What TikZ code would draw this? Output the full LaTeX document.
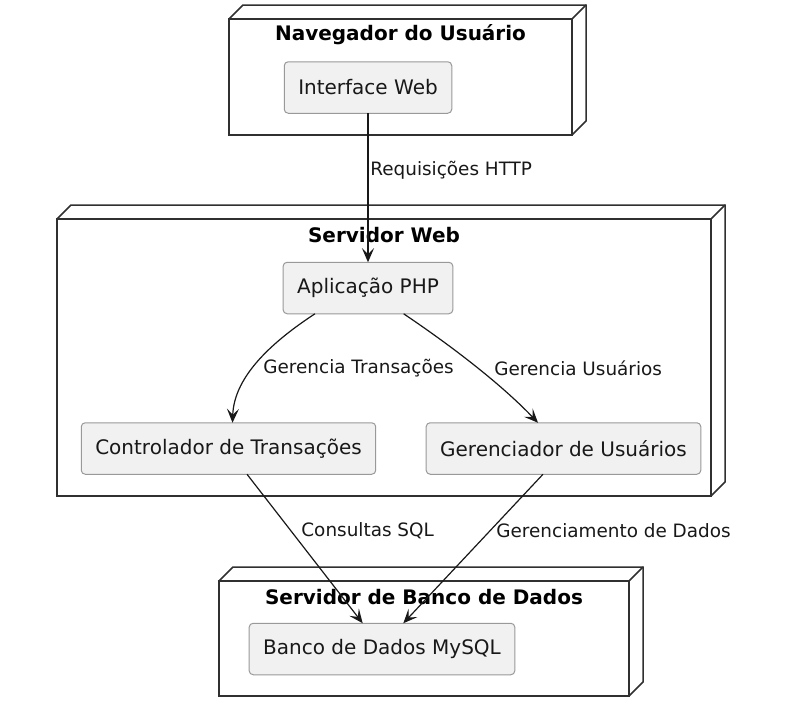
\documentclass[tikz,border=0pt]{standalone}
\usepackage{fontspec}
\setmainfont{DejaVu Sans}
\usepackage{tikz}
\usetikzlibrary{calc,arrows.meta,positioning}

\definecolor{boxfill}{HTML}{F1F1F1}
\definecolor{boxline}{HTML}{999999}
\definecolor{ink}{HTML}{181818}
\definecolor{shellline}{HTML}{303030}

\tikzset{
  shell/.style={draw=shellline,line width=0.75pt,outer sep=0pt,inner sep=0pt},
  shelltitle/.style={font=\bfseries\fontsize{10}{12}\selectfont,text=black},
  artifact/.style={draw=boxline,fill=boxfill,rounded corners=2pt,line width=0.5pt,
    minimum height=25.75pt,inner xsep=7pt,outer sep=0pt,
    font=\fontsize{10}{12}\selectfont,text=ink},
  link/.style={draw=ink,line width=0.6pt,-{Stealth[length=7pt,width=6pt,inset=3pt]}},
  linklabel/.style={font=\fontsize{9.2}{11}\selectfont,text=ink,anchor=west,inner sep=0pt},
}

\begin{document}
\begin{tikzpicture}[x=0.5pt,y=-0.5pt]
        \useasboundingbox (0,0) rectangle (788,707);
        \begin{scope}
          \def\depth{14}

          % servidores (caixas 3D)
          \foreach \name/\xa/\ya/\xb/\yb/\txt in {
              browser/229/19/572/135/Navegador do Usuário,
              websrv/57/219/711/496/Servidor Web,
              dbsrv/219/581/629/696/Servidor de Banco de Dados} {
            \node[shell,minimum width={(\xb-\xa)*0.5pt},minimum height={(\yb-\ya)*0.5pt}]
              (\name) at ({(\xa+\xb)/2},{(\ya+\yb)/2}) {};
            \draw[shell] (\name.north west) -- ++(\depth,-\depth) -- ++({\xb-\xa},0)
              -- ++(0,{\yb-\ya}) -- (\name.south east);
            \draw[shell] (\name.north east) -- ++(\depth,-\depth);
            \node[shelltitle] (\name-title) at ([yshift=-8pt]\name.north) {\txt};
          }

          % artefatos
          \node[artifact] (iface) at (368,87.5) {Interface Web};
          \node[artifact] (app) at (368,288) {Aplicação PHP};
          \node[artifact] (ctrl) at (228.5,448.5) {Controlador de Transações};
          \node[artifact] (mgr) at (563.5,448.5) {Gerenciador de Usuários};
          \node[artifact] (db) at (382,649) {Banco de Dados MySQL};

          % ligacoes
          \draw[link] (iface) -- (app);
          \draw[link] ([xshift=-26.5pt]app.south) .. controls (275,340) and (234,375) .. ([xshift=2pt]ctrl.north);
          \draw[link] ([xshift=17.8pt]app.south) .. controls (450,345) and (500,383) .. ([xshift=-12.75pt]mgr.north);
          \draw[link] ([xshift=9.25pt]ctrl.south) -- ([xshift=-9.65pt]db.north);
          \draw[link] ([xshift=-10.25pt]mgr.south) -- ([xshift=10.65pt]db.north);

          \node[linklabel] (lbl-http) at (370,170) {Requisições HTTP};
          \node[linklabel] (lbl-trans) at (263,368) {Gerencia Transações};
          \node[linklabel] (lbl-users) at (494,368) {Gerencia Usuários};
          \node[linklabel] (lbl-sql) at (301,531) {Consultas SQL};
          \node[linklabel] (lbl-data) at (496,531) {Gerenciamento de Dados};
        \end{scope}
      \end{tikzpicture}
\end{document}
